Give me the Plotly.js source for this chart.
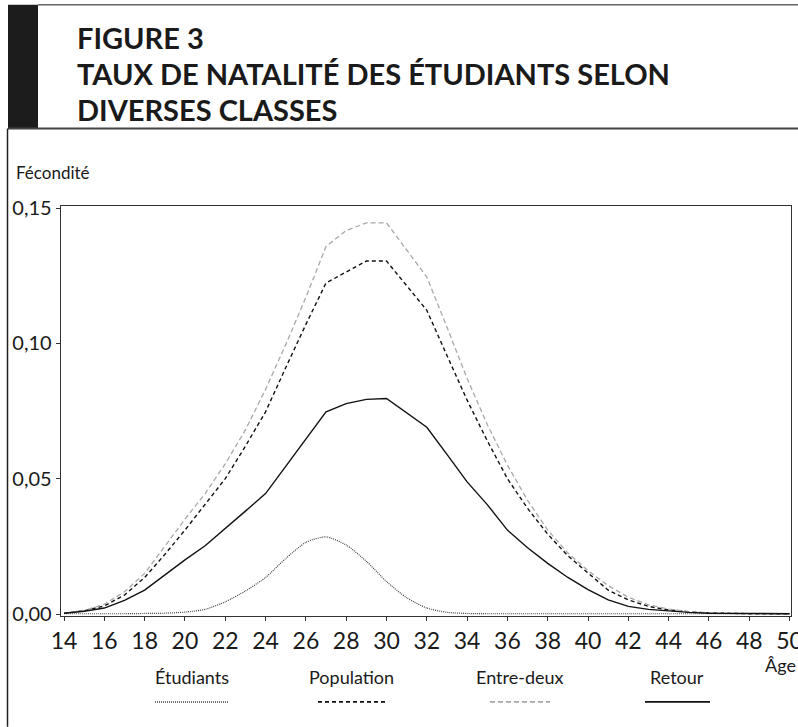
<!DOCTYPE html>
<html>
<head>
<meta charset="utf-8">
<script src="https://cdn.plot.ly/plotly-3.0.1.min.js"></script>
<style>
html,body{margin:0;padding:0;background:#fff;}
#chart{width:798px;height:727px;}
</style>
</head>
<body>
<div id="chart"></div>
<script>
// ---- Data ----
const ages = [14,15,16,17,18,19,20,21,22,23,24,25,26,27,28,29,30,31,32,33,34,35,36,37,38,39,40,41,42,43,44,45,46,47,48,49,50];
const etudiants = [0.0001,0.0001,0.0001,0.0001,0.0002,0.0003,0.0007,0.0017,0.0045,0.0085,0.0135,0.0205,0.0265,0.0285,0.0255,0.0195,0.0120,0.0060,0.0022,0.0006,0.0002,0.0001,0.0001,0.0001,0.0001,0.0001,0.0001,0.0001,0.0001,0.0001,0.0001,0.0001,0.0001,0.0001,0.0001,0.0001,0.0001];
const population = [0.0003,0.0012,0.0030,0.0070,0.0135,0.0220,0.0310,0.0405,0.0500,0.0620,0.0747,0.0910,0.1070,0.1223,0.1263,0.1304,0.1304,0.1213,0.1122,0.0955,0.0790,0.0640,0.0500,0.0390,0.0295,0.0215,0.0150,0.0088,0.0052,0.0028,0.0015,0.0008,0.0004,0.0002,0.0001,0.0001,0.0001];
const entreDeux = [0.0003,0.0013,0.0036,0.0082,0.0150,0.0250,0.0350,0.0445,0.0555,0.0680,0.0830,0.0995,0.1170,0.1358,0.1417,0.1445,0.1445,0.1345,0.1245,0.1060,0.0870,0.0700,0.0550,0.0420,0.0310,0.0225,0.0160,0.0105,0.0062,0.0034,0.0018,0.0009,0.0004,0.0002,0.0001,0.0001,0.0001];
const retour = [0.0003,0.0010,0.0022,0.0050,0.0088,0.0145,0.0200,0.0252,0.0315,0.0380,0.0445,0.0546,0.0646,0.0747,0.0777,0.0793,0.0796,0.0743,0.0690,0.0590,0.0488,0.0404,0.0310,0.0245,0.0187,0.0135,0.0090,0.0052,0.0028,0.0017,0.0011,0.0006,0.0003,0.0002,0.0001,0.0001,0.0001];

const seriesNames = ['Étudiants','Population','Entre-deux','Retour'];
const xTickVals = [14,16,18,20,22,24,26,28,30,32,34,36,38,40,42,44,46,48,50];
const yTickVals = [0,0.05,0.10,0.15];
const yTickText = ['0,00','0,05','0,10','0,15'];
const titleLines = ['FIGURE 3','TAUX DE NATALITÉ DES ÉTUDIANTS SELON','DIVERSES CLASSES'];
const yLabel = 'Fécondité';
const xLabel = 'Âge';

// ---- Layout geometry (pixels) ----
const W = 798, H = 727;
const plotL = 61, plotR = 791, plotT = 205.5, plotB = 616;
const pw = plotR - plotL, ph = plotB - plotT;
const px = v => (v - plotL) / pw;   // pixel x -> paper
const py = v => (plotB - v) / ph;   // pixel y -> paper

const FONT = 'Lato, "Open Sans", sans-serif';
const INK = '#1a1a1a';

const styles = [
  {color:'#444444', width:1.2, dash:'1px,1px', shape:'spline'},
  {color:'#111111', width:1.4, dash:'4px,3px', shape:'linear'},
  {color:'#a8a8a8', width:1.3, dash:'5px,3px', shape:'linear'},
  {color:'#111111', width:1.4, dash:'solid',  shape:'linear'}
];
const seriesData = [etudiants, population, entreDeux, retour];

const traces = seriesData.map((ys, i) => ({
  type:'scatter', mode:'lines', name: seriesNames[i],
  x: ages, y: ys,
  line:{color:styles[i].color, width:styles[i].width, dash:styles[i].dash, shape:styles[i].shape, smoothing:0.6},
  showlegend:false, hoverinfo:'skip'
}));

// legend drawn under the axis: text above a line sample
const legendCenters = [191.5, 351.5, 520, 677];
const legendLines = [[155,228],[318,386],[490,550],[645,710]];
const titleCenters = [37, 73, 109];

const shapes = [
  {type:'rect', xref:'paper', yref:'paper', x0:px(8), x1:px(38), y0:py(4), y1:py(128), fillcolor:'#1c1c1c', line:{width:0}, layer:'above'},
  {type:'line', xref:'paper', yref:'paper', x0:px(38), x1:px(798), y0:py(4), y1:py(4), line:{color:'#666', width:1.5}},
  {type:'line', xref:'paper', yref:'paper', x0:px(8), x1:px(798), y0:py(128), y1:py(128), line:{color:'#444', width:2}},
  {type:'line', xref:'paper', yref:'paper', x0:px(7.5), x1:px(7.5), y0:py(128), y1:py(727), line:{color:'#222', width:1.5}}
];
legendLines.forEach((lx, i) => {
  shapes.push({type:'line', xref:'paper', yref:'paper', x0:px(lx[0]), x1:px(lx[1]), y0:py(702), y1:py(702),
    line:{color:styles[i].color, width:styles[i].width + 0.3, dash:styles[i].dash}});
});

const annotations = [
  {text:yLabel, xref:'paper', yref:'paper', x:px(14), y:py(172), xanchor:'left', yanchor:'middle', showarrow:false, font:{family:FONT, size:17, color:INK}},
  {text:xLabel, xref:'paper', yref:'paper', x:px(763), y:py(665), xanchor:'left', yanchor:'middle', showarrow:false, font:{family:FONT, size:18, color:INK}}
];
titleLines.forEach((t, i) => {
  annotations.push({text:t, xref:'paper', yref:'paper', x:px(75), y:py(titleCenters[i]), xanchor:'left', yanchor:'middle', align:'left', showarrow:false,
    font:{family:FONT, size:29, color:INK, weight:'bold'}});
});
seriesNames.forEach((n, i) => {
  annotations.push({text:n, xref:'paper', yref:'paper', x:px(legendCenters[i]), y:py(677), xanchor:'center', yanchor:'middle', showarrow:false, font:{family:FONT, size:18, color:INK}});
});

const layout = {
  width:W, height:H,
  paper_bgcolor:'#ffffff', plot_bgcolor:'#ffffff',
  margin:{l:plotL, r:W-plotR, t:plotT, b:H-plotB, pad:0},
  showlegend:false,
  xaxis:{range:[13.85, 50.07], tickvals:xTickVals, ticks:'outside', ticklen:4, tickwidth:1, tickcolor:'#333',
         showline:true, linecolor:'#333', linewidth:1.3, mirror:true, showgrid:false, zeroline:false,
         ticklabeloverflow:'allow', tickfont:{family:FONT, size:23, color:INK}, fixedrange:true},
  yaxis:{range:[-0.00074, 0.15074], tickvals:yTickVals, ticktext:yTickText, ticks:'outside', ticklen:4, tickwidth:1, tickcolor:'#333',
         showline:true, linecolor:'#333', linewidth:1.3, mirror:true, showgrid:false, zeroline:false,
         tickfont:{family:FONT, size:20, color:INK}, fixedrange:true},
  shapes:shapes,
  annotations:annotations
};

Plotly.newPlot('chart', traces, layout, {staticPlot:true, displayModeBar:false});
</script>
</body>
</html>
